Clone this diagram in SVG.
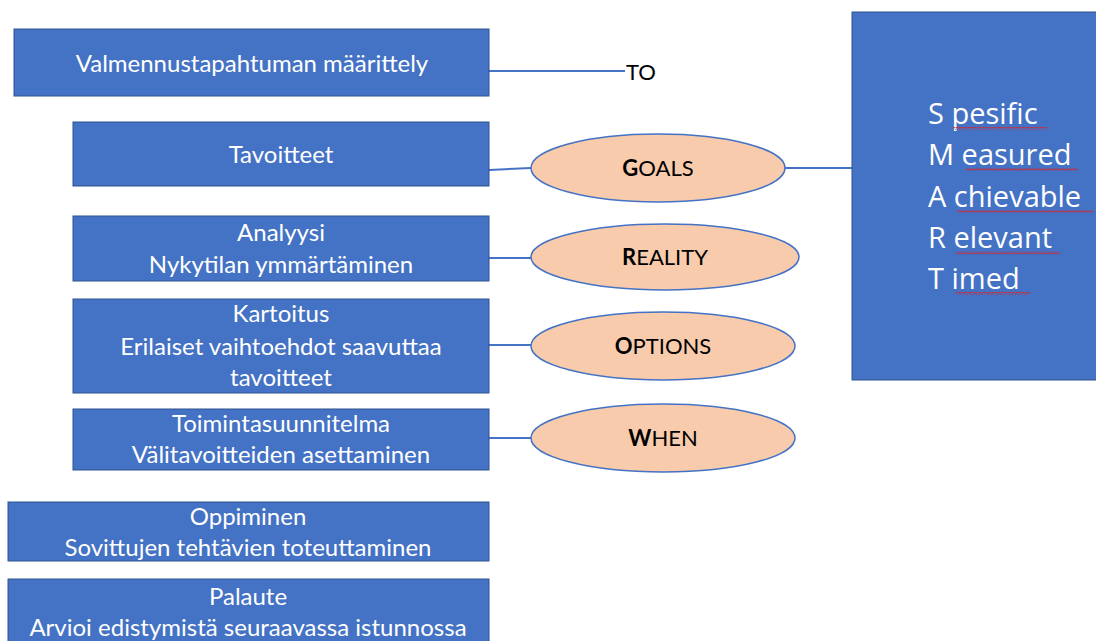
<svg xmlns="http://www.w3.org/2000/svg" width="1096" height="641" viewBox="0 0 1096 641">
<defs>
<style>
.box{fill:#4472C4;stroke:#2F528F;stroke-width:1}
.ell{fill:#F8CBAD;stroke:#4472C4;stroke-width:1.5}
.bt{font-family:Lato,"Noto Sans",sans-serif;font-size:24px;fill:#FFFFFF;text-anchor:middle}
.et{font-family:Lato,"Noto Sans",sans-serif;font-size:22px;fill:#000000;text-anchor:middle}
.st{font-family:"Open Sans","Noto Sans",sans-serif;font-size:29px;fill:#FFFFFF}
.conn{stroke:#4472C4;stroke-width:2;fill:none}
</style>
<pattern id="wave" width="3" height="3" patternUnits="userSpaceOnUse">
<path d="M0,2.5 L1.5,0.5 L3,2.5" stroke="#E02020" stroke-width="1" fill="none"/>
</pattern>
</defs>
<rect width="1096" height="641" fill="#FFFFFF"/>
<g id="connectors">
<line class="conn" x1="489" y1="71" x2="625" y2="71"/>
<line class="conn" x1="489" y1="170" x2="531" y2="168"/>
<line class="conn" x1="785" y1="168" x2="852" y2="168"/>
<line class="conn" x1="489" y1="258" x2="531" y2="258"/>
<line class="conn" x1="489" y1="345" x2="531" y2="345"/>
<line class="conn" x1="489" y1="438" x2="531" y2="438"/>
</g>
<g id="n-to"><text x="626" y="80" style="font-family:Lato,'Noto Sans',sans-serif;font-size:22px;fill:#000">TO</text></g>
<g id="n-valmennus">
<rect class="box" x="14" y="29" width="475" height="67"/>
<text class="bt" x="252" y="72">Valmennustapahtuman määrittely</text>
</g>
<g id="n-tavoitteet">
<rect class="box" x="73" y="122" width="416" height="64"/>
<text class="bt" x="281" y="163">Tavoitteet</text>
</g>
<g id="n-goals">
<ellipse class="ell" cx="658" cy="168" rx="127" ry="34"/>
<text class="et" x="658" y="176"><tspan font-weight="bold">G</tspan>OALS</text>
</g>
<g id="n-smart">
<rect class="box" x="852" y="12" width="250" height="368"/>
<text class="st" x="928" y="124">S pesific</text>
<text class="st" x="928" y="165">M easured</text>
<text class="st" x="928" y="207">A chievable</text>
<text class="st" x="928" y="248">R elevant</text>
<text class="st" x="928" y="289">T imed</text>
<rect x="953" y="127" width="94" height="3" fill="url(#wave)"/>
<rect x="966" y="168" width="112" height="3" fill="url(#wave)"/>
<rect x="957" y="210" width="136" height="3" fill="url(#wave)"/>
<rect x="956" y="251" width="104" height="3" fill="url(#wave)"/>
<rect x="956" y="292" width="74" height="3" fill="url(#wave)"/>
</g>
<g id="n-analyysi">
<rect class="box" x="73" y="216" width="416" height="65"/>
<text class="bt" x="281" y="241">Analyysi</text>
<text class="bt" x="281" y="273">Nykytilan ymmärtäminen</text>
</g>
<g id="n-reality">
<ellipse class="ell" cx="665" cy="257" rx="134" ry="33"/>
<text class="et" x="665" y="265"><tspan font-weight="bold">R</tspan>EALITY</text>
</g>
<g id="n-kartoitus">
<rect class="box" x="73" y="299" width="416" height="94"/>
<text class="bt" x="281" y="322">Kartoitus</text>
<text class="bt" x="281" y="355">Erilaiset vaihtoehdot saavuttaa</text>
<text class="bt" x="281" y="386">tavoitteet</text>
</g>
<g id="n-options">
<ellipse class="ell" cx="663" cy="346" rx="132" ry="34"/>
<text class="et" x="663" y="354"><tspan font-weight="bold">O</tspan>PTIONS</text>
</g>
<g id="n-toiminta">
<rect class="box" x="73" y="409" width="416" height="61"/>
<text class="bt" x="281" y="432">Toimintasuunnitelma</text>
<text class="bt" x="281" y="463">Välitavoitteiden asettaminen</text>
</g>
<g id="n-when">
<ellipse class="ell" cx="663" cy="438" rx="132" ry="34"/>
<text class="et" x="663" y="446"><tspan font-weight="bold">W</tspan>HEN</text>
</g>
<g id="n-oppiminen">
<rect class="box" x="8" y="502" width="481" height="59"/>
<text class="bt" x="248" y="525">Oppiminen</text>
<text class="bt" x="248" y="556">Sovittujen tehtävien toteuttaminen</text>
</g>
<g id="n-palaute">
<rect class="box" x="8" y="579" width="481" height="70"/>
<text class="bt" x="248" y="605">Palaute</text>
<text class="bt" x="248" y="636">Arvioi edistymistä seuraavassa istunnossa</text>
</g>
</svg>
